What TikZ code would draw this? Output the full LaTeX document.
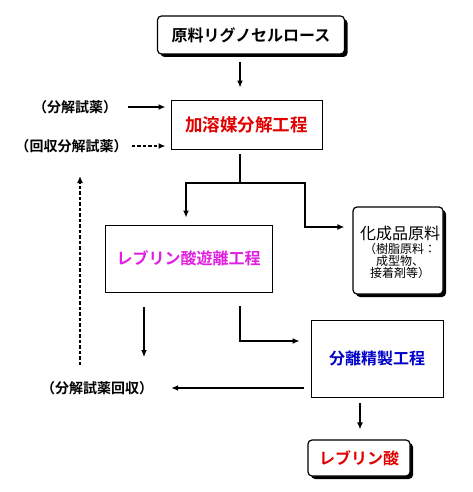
\documentclass[tikz,border=0pt]{standalone}
\usepackage{fontspec}
\setmainfont{Noto Sans CJK JP}[BoldFont={Noto Sans CJK JP Bold}]
\usetikzlibrary{arrows.meta,shadows,calc}
\definecolor{myred}{RGB}{225,0,0}
\definecolor{mymag}{RGB}{225,30,225}
\definecolor{myblue}{RGB}{0,0,200}
\tikzset{
  plainbox/.style={draw=black, line width=0.9pt, fill=white, inner sep=0pt, align=center},
  roundbox/.style={draw=black, line width=1.2pt, fill=white, rounded corners=4pt, inner sep=0pt, align=center,
    drop shadow={shadow xshift=3pt, shadow yshift=-3pt, fill=black, opacity=1}},
  arr/.style={line width=1.8pt, -{Latex[length=7pt,width=6pt]}},
  ln/.style={line width=1.8pt},
  dasharr/.style={line width=1.8pt, dash pattern=on 3.5pt off 2pt, -{Latex[length=7pt,width=6pt]}},
  lbl/.style={font=\fontsize{14}{16}\selectfont\bfseries, inner sep=0pt}
}
\begin{document}
\begin{tikzpicture}[x=1pt,y=-1pt]
\useasboundingbox (0,0) rectangle (473,492);
% nodes
\node[roundbox, minimum width=187pt, minimum height=38pt, font=\fontsize{16}{18}\selectfont\bfseries] (top) at (251,35) {原料リグノセルロース};
\node[plainbox, minimum width=151pt, minimum height=49pt, font=\fontsize{17.5}{20}\selectfont\bfseries, text=myred] (solv) at (246.5,124.5) {加溶媒分解工程};
\node[lbl] (reag) at (75,107) {（分解試薬）};
\node[lbl] (rreag) at (71.5,146) {（回収分解試薬）};
\node[plainbox, minimum width=167pt, minimum height=67pt, font=\fontsize{16}{18}\selectfont\bfseries, text=mymag] (free) at (188.5,258.5) {レブリン酸遊離工程};
\node[roundbox, minimum width=90pt, minimum height=87pt] (chem) at (398,250.5) {};
\node[align=center, inner sep=0pt] (chemtxt) at (400,252) {{\fontsize{16}{18}\selectfont 化成品原料}\\[2pt]{\fontsize{12}{11.5}\selectfont （樹脂原料：}\\{\fontsize{12}{11.5}\selectfont 成型物、}\\{\fontsize{12}{11.5}\selectfont 接着剤等）}};
\node[plainbox, minimum width=132pt, minimum height=77pt, font=\fontsize{16}{18}\selectfont\bfseries, text=myblue] (sep) at (377,358.5) {分離精製工程};
\node[lbl] (rec) at (97,388) {（分解試薬回収）};
\node[roundbox, minimum width=102pt, minimum height=36pt, font=\fontsize{16}{18}\selectfont\bfseries, text=myred] (lev) at (359,458) {レブリン酸};
% coordinates
\coordinate (split) at (240,183);
\coordinate (splitL) at (186,183);
\coordinate (splitR) at (305,183);
\coordinate (bendR) at (305,227);
\coordinate (bend2) at (240,341);
\coordinate (dashtop) at (80,176);
\coordinate (dashbot) at (80,365);
% connectors
\draw[arr, shorten <=7pt, shorten >=12pt] ([xshift=-11pt]top.south) -- ([xshift=-11pt]top.south |- solv.north);
\draw[arr, shorten <=11pt, shorten >=5pt] (reag.east) -- (reag.east -| solv.west);
\draw[dasharr, shorten <=4pt, shorten >=5pt] (rreag.east) -- (rreag.east -| solv.west);
\draw[ln, shorten <=5pt] (solv.south -| split) -- (split);
\draw[ln, line cap=rect] (splitL) -- (splitR);
\draw[arr, shorten >=7pt] (splitL) -- (splitL |- free.north);
\draw[arr, shorten >=8pt] (splitR) -- (bendR) -- (bendR -| chem.west);
\draw[arr, shorten <=15pt, shorten >=24pt] (free.south -| 144,0) -- (rec.north -| 144,0);
\draw[arr, shorten <=14pt, shorten >=11pt] (free.south -| bend2) -- (bend2) -- (bend2 -| sep.west);
\draw[arr, shorten <=7pt, shorten >=18pt] (sep.west |- rec.east) -- (rec.east);
\draw[arr, shorten <=6pt, shorten >=10pt] (sep.south -| 360,0) -- (lev.north -| 360,0);
\draw[dasharr] (dashbot) -- (dashtop);
\end{tikzpicture}
\end{document}
